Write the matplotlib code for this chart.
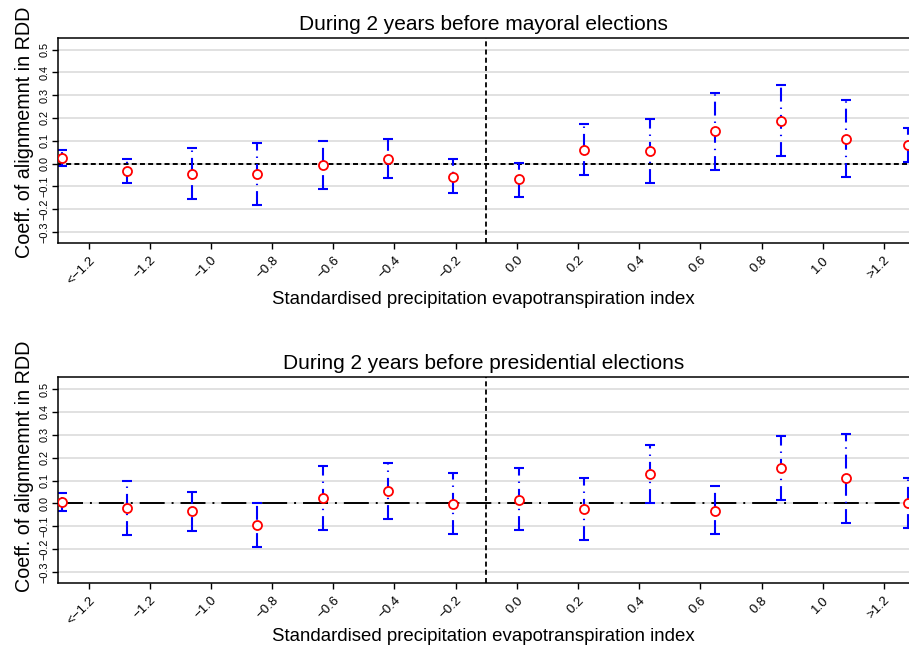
import numpy as np
import matplotlib
matplotlib.use("Agg")
import matplotlib.pyplot as plt

plt.rcParams['font.family'] = ['Liberation Sans', 'DejaVu Sans']
plt.rcParams['lines.scale_dashes'] = False

# bin positions (SPEI bins)
bins_x = [-1.488, -1.275, -1.062, -0.849, -0.635, -0.421, -0.208,
          0.007, 0.219, 0.435, 0.647, 0.862, 1.075, 1.280]

# mayoral elections
may_coef = [0.025, -0.031, -0.044, -0.047, -0.006, 0.020, -0.057,
            -0.069, 0.061, 0.055, 0.142, 0.187, 0.108, 0.083]
may_hi = [0.058, 0.022, 0.067, 0.088, 0.099, 0.107, 0.018,
          0.004, 0.172, 0.194, 0.311, 0.343, 0.279, 0.156]
may_lo = [-0.009, -0.085, -0.155, -0.180, -0.113, -0.064, -0.130,
          -0.145, -0.050, -0.085, -0.028, 0.033, -0.059, 0.007]

# presidential elections
pres_coef = [0.007, -0.019, -0.035, -0.095, 0.025, 0.054, -0.002,
             0.017, -0.024, 0.129, -0.031, 0.154, 0.109, 0.000]
pres_hi = [0.046, 0.100, 0.049, 0.001, 0.164, 0.178, 0.134,
           0.153, 0.111, 0.254, 0.074, 0.294, 0.304, 0.109]
pres_lo = [-0.034, -0.139, -0.121, -0.190, -0.115, -0.069, -0.134,
           -0.118, -0.159, 0.000, -0.134, 0.014, -0.085, -0.109]

tick_pos = [-1.4, -1.2, -1.0, -0.8, -0.6, -0.4, -0.2, 0.0, 0.2, 0.4, 0.6, 0.8, 1.0, 1.2]
tick_lab = ['<\u22121.2', '\u22121.2', '\u22121.0', '\u22120.8', '\u22120.6', '\u22120.4', '\u22120.2',
            '0.0', '0.2', '0.4', '0.6', '0.8', '1.0', '>1.2']
y_ticks = [-0.3, -0.2, -0.1, 0.0, 0.1, 0.2, 0.3, 0.4, 0.5]
y_lab = ['\u22120.3', '\u22120.2', '\u22120.1', '0.0', '0.1', '0.2', '0.3', '0.4', '0.5']

cutoff = -0.1

fig = plt.figure(figsize=(9.09, 6.46), dpi=100)
ax1 = fig.add_axes([0.0638, 0.6238, 0.9362, 0.3174])
ax2 = fig.add_axes([0.0638, 0.0970, 0.9362, 0.3190])


def draw_panel(ax, coef, lo, hi, title, zero_style, xpad, ylab_y):
    ax.set_xlim(-1.5, 1.282)
    ax.set_ylim(-0.349, 0.551)
    for yv in y_ticks:
        ax.axhline(yv, color='#e1e1e1', lw=1.4, zorder=0)
    ax.axhline(0, color='black', lw=1.4, ls=zero_style, zorder=1)
    ax.axvline(cutoff, color='black', lw=1.3, ls=(0, (3.6, 2.3)), zorder=1)

    c = np.array(coef)
    yerr = [c - np.array(lo), np.array(hi) - c]
    eb = ax.errorbar(bins_x, coef, yerr=yerr, fmt='none', ecolor='#0000ff',
                     elinewidth=1.5, capsize=3.6, capthick=1.5, zorder=2)
    eb[2][0].set_linestyle((0, (10, 4.3, 1.0, 4.3)))
    ax.plot(bins_x, coef, 'o', mfc='white', mec='#ff0000', mew=1.3, ms=6.5, zorder=3)

    ax.set_xticks(tick_pos)
    ax.set_xticklabels(tick_lab, rotation=45, ha='right', rotation_mode='anchor', fontsize=9.5)
    ax.set_yticks(y_ticks)
    ax.set_yticklabels(y_lab, rotation=90, va='center', fontsize=7.8)
    ax.tick_params(axis='both', direction='out', length=4, width=1, pad=2)
    ax.tick_params(axis='x', pad=4)
    ax.spines['right'].set_visible(False)
    for s in ['left', 'top', 'bottom']:
        ax.spines[s].set_linewidth(1.1)
    ax.set_title(title, fontsize=15, pad=6)
    ax.set_xlabel('Standardised precipitation evapotranspiration index', fontsize=13.4, labelpad=xpad)
    ax.set_ylabel('Coeff. of alignmemnt in RDD', fontsize=14.2, labelpad=4)
    ax.yaxis.label.set_y(ylab_y)


draw_panel(ax1, may_coef, may_lo, may_hi,
           'During 2 years before mayoral elections', (0, (3.6, 2.3)), 3, 0.54)
draw_panel(ax2, pres_coef, pres_lo, pres_hi,
           'During 2 years before presidential elections', (0, (18, 5, 1.4, 5)), 1, 0.57)

fig.savefig('out.png', dpi=100)
